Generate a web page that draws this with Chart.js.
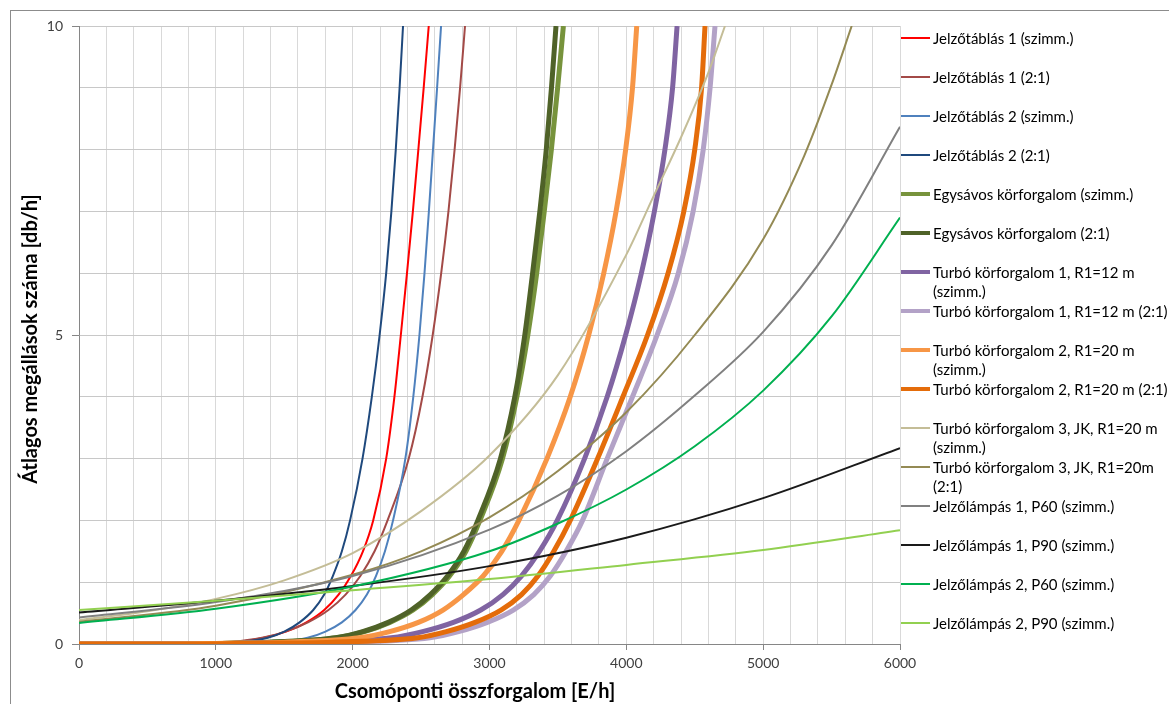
<!DOCTYPE html>
<html>
<head>
<meta charset="utf-8">
<script src="https://cdn.jsdelivr.net/npm/chart.js@4.4.1/dist/chart.umd.min.js"></script>
<style>
  html, body { margin: 0; padding: 0; background: #ffffff; }
  #wrap { position: relative; width: 1169px; height: 704px; overflow: hidden; }
  #c { position: absolute; left: 0; top: 0; }
  #legend { position: absolute; left: 901px; top: 0; width: 300px; font-family: Lato, "Open Sans", sans-serif; font-size: 15px; color: #000; }
  .item { position: absolute; left: 0; white-space: nowrap; }
  .sw { position: absolute; left: 0; width: 29px; }
  .tx { position: absolute; left: 32px; line-height: 18.5px; }
</style>
</head>
<body>
<div id="wrap">
  <canvas id="c" width="1169" height="704"></canvas>
  <div id="legend"></div>
</div>
<script>
// ---- data ----
const seriesNames = [
  'Jelzőtáblás 1 (szimm.)',
  'Jelzőtáblás 1 (2:1)',
  'Jelzőtáblás 2 (szimm.)',
  'Jelzőtáblás 2 (2:1)',
  'Egysávos körforgalom (szimm.)',
  'Egysávos körforgalom (2:1)',
  'Turbó körforgalom 1, R1=12 m\n(szimm.)',
  'Turbó körforgalom 1, R1=12 m (2:1)',
  'Turbó körforgalom 2, R1=20 m\n(szimm.)',
  'Turbó körforgalom 2, R1=20 m (2:1)',
  'Turbó körforgalom 3, JK, R1=20 m\n(szimm.)',
  'Turbó körforgalom 3, JK, R1=20m\n(2:1)',
  'Jelzőlámpás 1, P60 (szimm.)',
  'Jelzőlámpás 1, P90 (szimm.)',
  'Jelzőlámpás 2, P60 (szimm.)',
  'Jelzőlámpás 2, P90 (szimm.)'
];

// steep curves: y values shared by the readings below (stops per curve)
const steepY = [0, 0, 0.01, 0.03, 0.1, 0.2, 0.35, 0.55, 0.8, 1.1, 1.5, 2, 3, 4, 5, 6, 7, 8, 9, 10];

const jt1SzX = [0, 500, 950, 1150, 1352, 1512, 1662, 1792, 1897, 1987, 2075, 2150, 2245, 2305, 2352, 2397, 2440, 2480, 2519, 2556];
const jt1AsX = [0, 500, 900, 1100, 1338, 1508, 1673, 1823, 1948, 2056, 2160, 2255, 2410, 2510, 2585, 2647, 2700, 2745, 2785, 2821];
const jt2SzX = [0, 800, 1250, 1480, 1671, 1801, 1921, 2021, 2104, 2170, 2236, 2295, 2385, 2443, 2488, 2525, 2557, 2587, 2617, 2646];
const jt2AsX = [0, 600, 980, 1180, 1380, 1500, 1612, 1712, 1792, 1855, 1921, 1981, 2072, 2140, 2197, 2245, 2283, 2315, 2343, 2368];
const egySzX = [0, 700, 1000, 1400, 1885, 2085, 2272, 2442, 2582, 2708, 2828, 2930, 3095, 3200, 3280, 3345, 3400, 3452, 3498, 3540];
const egyAsX = [0, 700, 1000, 1400, 1875, 2073, 2260, 2428, 2568, 2693, 2813, 2915, 3080, 3185, 3258, 3315, 3368, 3415, 3453, 3486];
const t1SzX  = [0, 800, 1100, 1600, 2281, 2511, 2736, 2936, 3098, 3233, 3365, 3495, 3695, 3860, 3995, 4110, 4205, 4282, 4338, 4371];
const t1AsX  = [0, 900, 1300, 1900, 2564, 2774, 2984, 3174, 3324, 3444, 3560, 3680, 3860, 4045, 4225, 4380, 4488, 4562, 4612, 4648];
const t2SzX  = [0, 700, 1000, 1500, 2050, 2270, 2480, 2660, 2810, 2954, 3090, 3215, 3420, 3590, 3725, 3835, 3925, 3995, 4045, 4076];
const t2AsX  = [0, 900, 1250, 1850, 2474, 2684, 2894, 3084, 3234, 3354, 3470, 3590, 3790, 3975, 4155, 4305, 4420, 4500, 4550, 4575];

// slow curves
const t3SzX = [0, 500, 1000, 1500, 2000, 2500, 3000, 3500, 4000, 4200, 4400, 4600, 4721];
const t3SzY = [0.39, 0.53, 0.73, 1.03, 1.47, 2.15, 3.05, 4.35, 6.3, 7.25, 8.2, 9.25, 10];

const t3AsX = [0, 1000, 2000, 2500, 3000, 3500, 4000, 4500, 5000, 5300, 5500, 5647];
const t3AsY = [0.36, 0.62, 1.12, 1.5, 2.05, 2.8, 3.75, 5.0, 6.55, 7.9, 9.05, 10];

const jl1P60X = [0, 1000, 2000, 3000, 3500, 4000, 4500, 5000, 5500, 6000];
const jl1P60Y = [0.43, 0.68, 1.1, 1.85, 2.4, 3.12, 4.02, 5.05, 6.45, 8.37];

const jl1P90X = [0, 1000, 2000, 3000, 4000, 5000, 6000];
const jl1P90Y = [0.51, 0.7, 0.94, 1.26, 1.72, 2.36, 3.17];

const jl2P60X = [0, 1000, 2000, 3000, 3500, 4000, 4500, 5000, 5500, 6000];
const jl2P60Y = [0.34, 0.57, 0.93, 1.5, 1.95, 2.5, 3.2, 4.1, 5.3, 6.9];

const jl2P90X = [0, 1000, 2000, 3000, 4000, 5000, 6000];
const jl2P90Y = [0.55, 0.7, 0.87, 1.05, 1.28, 1.52, 1.84];

const xTickLabels = [0, 1000, 2000, 3000, 4000, 5000, 6000];
const yTickLabels = [0, 5, 10];
const xTitle = 'Csomóponti összforgalom [E/h]';
const yTitle = 'Átlagos megállások száma [db/h]';

// ---- styling ----
const seriesX = [jt1SzX, jt1AsX, jt2SzX, jt2AsX, egySzX, egyAsX, t1SzX, t1AsX, t2SzX, t2AsX, t3SzX, t3AsX, jl1P60X, jl1P90X, jl2P60X, jl2P90X];
const seriesY = [steepY, steepY, steepY, steepY, steepY, steepY, steepY, steepY, steepY, steepY, t3SzY, t3AsY, jl1P60Y, jl1P90Y, jl2P60Y, jl2P90Y];
const colors = ['#FF0000', '#A34A47', '#4F81BD', '#1F497D', '#77933C', '#4F6228', '#8064A2', '#B3A2C7',
                '#F79646', '#E46C0A', '#C4BD97', '#948A54', '#808080', '#1A1A1A', '#00B050', '#92D050'];
const widths = [2, 2, 2, 2, 5, 5, 5, 5, 5, 5, 2, 2, 2, 2, 2, 2];

const datasets = seriesNames.map((name, i) => ({
  label: name.replace('\n', ' '),
  data: seriesX[i].map((x, j) => ({ x: x, y: seriesY[i][j] })),
  borderColor: colors[i],
  backgroundColor: colors[i],
  borderWidth: widths[i],
  pointRadius: 0,
  fill: false,
  cubicInterpolationMode: 'monotone',
  order: seriesNames.length - i
}));

const frameAndTitles = {
  id: 'frameAndTitles',
  beforeDraw(chart) {
    const ctx = chart.ctx;
    ctx.save();
    ctx.fillStyle = '#ffffff';
    ctx.fillRect(0, 0, chart.width, chart.height);
    ctx.strokeStyle = '#8C8C8C';
    ctx.lineWidth = 1;
    ctx.strokeRect(10.5, 10.5, 1400, 900);
    ctx.restore();
  },
  afterDraw(chart) {
    const ctx = chart.ctx;
    ctx.save();
    ctx.fillStyle = '#000';
    ctx.font = 'bold 20px Lato';
    ctx.textAlign = 'center';
    ctx.textBaseline = 'middle';
    ctx.fillText(xTitle, 475, 692);
    ctx.translate(31, 339);
    ctx.rotate(-Math.PI / 2);
    ctx.fillText(yTitle, 0, 0);
    ctx.restore();
  }
};

Chart.defaults.font.family = 'Lato';
new Chart(document.getElementById('c'), {
  type: 'line',
  data: { datasets: datasets },
  options: {
    responsive: false,
    animation: false,
    devicePixelRatio: 1,
    layout: { padding: { left: 0, right: 269, top: 26, bottom: 0 } },
    plugins: { legend: { display: false }, tooltip: { enabled: false } },
    scales: {
      x: {
        type: 'linear', min: 0, max: 6000,
        ticks: {
          stepSize: 200, autoSkip: false, maxRotation: 0, padding: 5,
          color: '#404040', font: { size: 14 },
          callback: v => xTickLabels.includes(v) ? String(v) : ''
        },
        grid: {
          color: '#D9D9D9', tickLength: 6,
          tickColor: c => (c.tick && xTickLabels.includes(c.tick.value)) ? '#868686' : 'rgba(0,0,0,0)'
        },
        border: { color: '#868686' },
        afterFit: s => { s.height = 60; }
      },
      y: {
        min: 0, max: 10,
        ticks: {
          stepSize: 1, autoSkip: false, padding: 9,
          color: '#404040', font: { size: 14 },
          callback: v => yTickLabels.includes(v) ? String(v) : ''
        },
        grid: {
          color: '#C8C8C8', tickLength: 7,
          tickColor: c => (c.tick && yTickLabels.includes(c.tick.value)) ? '#868686' : 'rgba(0,0,0,0)'
        },
        border: { color: '#868686' },
        afterFit: s => { s.width = 79; }
      }
    }
  },
  plugins: [frameAndTitles]
});

// ---- HTML legend (real text) ----
const legend = document.getElementById('legend');
seriesNames.forEach((name, i) => {
  const cy = 38.3 + 39 * i;
  const item = document.createElement('div');
  item.className = 'item';
  item.style.top = (cy - 9.25) + 'px';
  const thick = widths[i] > 3;
  const sw = document.createElement('div');
  sw.className = 'sw';
  sw.style.height = (thick ? 4 : 2) + 'px';
  sw.style.top = (9.25 - (thick ? 2 : 1)) + 'px';
  sw.style.background = colors[i];
  const tx = document.createElement('div');
  tx.className = 'tx';
  tx.style.top = '0px';
  tx.innerHTML = name.split('\n').map(s => s.replace(/&/g, '&amp;').replace(/</g, '&lt;')).join('<br>');
  item.appendChild(sw);
  item.appendChild(tx);
  legend.appendChild(item);
});
</script>
</body>
</html>
